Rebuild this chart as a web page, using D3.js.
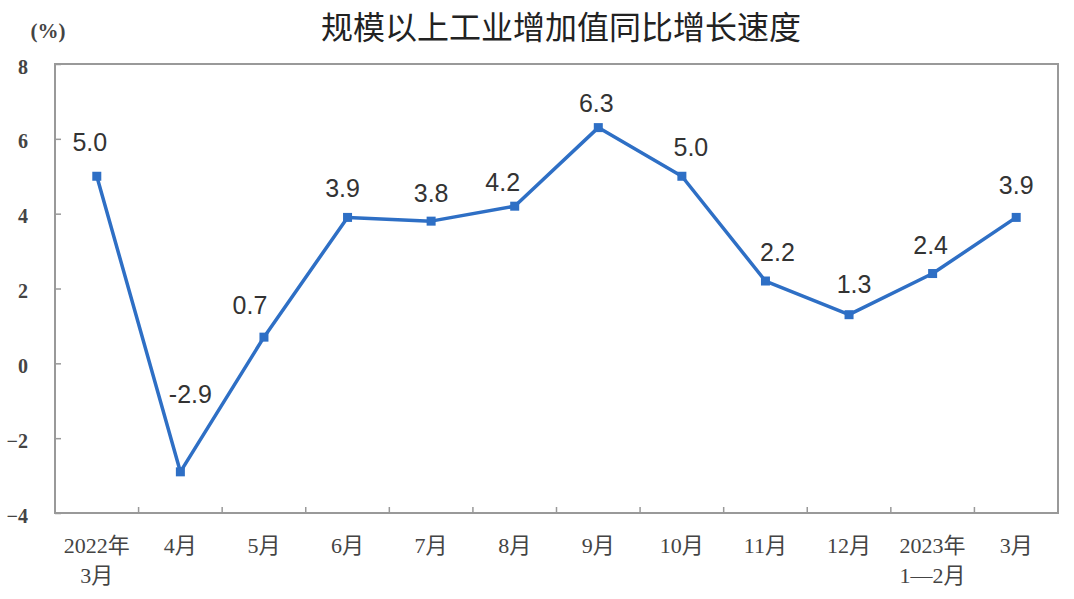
<!DOCTYPE html>
<html><head><meta charset="utf-8">
<script src="https://cdn.jsdelivr.net/npm/d3@7"></script>
<style>body{margin:0;background:#fff;}</style>
</head><body>
<script>
const categories = [["2022年","3月"],["4月"],["5月"],["6月"],["7月"],["8月"],["9月"],["10月"],["11月"],["12月"],["2023年","1—2月"],["3月"]];
const values = [5.0,-2.9,0.7,3.9,3.8,4.2,6.3,5.0,2.2,1.3,2.4,3.9];
const yTicks = [-4,-2,0,2,4,6,8];
const title = "规模以上工业增加值同比增长速度";
const unit = "(%)";

// layout: label nudges (px) relative to each point
const labelDx = [-7,10,-14,-5,0,-12,-2,9,12,5,-2,0];
const labelDy = [-25,-69,-23,-20,-19,-15,-16,-20,-20,-22,-20,-23];

const W=1074,H=599;
const m={l:55,r:1058,t:64,b:513};
const svg=d3.select("body").append("svg").attr("width",W).attr("height",H);
const x=d3.scaleBand().domain(d3.range(categories.length)).range([m.l,m.r]);
const y=d3.scaleLinear().domain([-4,8]).range([m.b,m.t]);
const serif="'Liberation Serif','Noto Sans CJK SC',serif";
const color="#2E6FC5";

svg.append("text").attr("x",561).attr("y",39).attr("text-anchor","middle")
  .attr("font-family","'Noto Sans CJK SC',sans-serif").attr("font-size",32).attr("fill","#222").text(title);
svg.append("text").attr("x",48).attr("y",38).attr("text-anchor","middle")
  .attr("font-family",serif).attr("font-size",21).attr("fill","#444").attr("font-weight","bold").text(unit);

// frame
svg.append("rect").attr("x",m.l).attr("y",m.t).attr("width",m.r-m.l).attr("height",m.b-m.t)
  .attr("fill","none").attr("stroke","#999").attr("stroke-width",2);

// y axis
const ya=svg.append("g").attr("transform",`translate(${m.l},0)`)
  .call(d3.axisLeft(y).tickValues(yTicks).tickSize(-6).tickPadding(27).tickFormat(d3.format("d")));
ya.select(".domain").remove();
ya.selectAll("line").attr("stroke","#999").attr("stroke-width",1.5);
ya.selectAll("text").attr("font-family",serif).attr("font-size",20).attr("fill","#444").attr("font-weight","bold").attr("dy","0.45em");

// x ticks at boundaries
const bounds=d3.range(1,categories.length).map(i=>x(i));
svg.append("g").selectAll("line").data(bounds).join("line")
  .attr("x1",d=>d).attr("x2",d=>d).attr("y1",m.b).attr("y2",m.b-6).attr("stroke","#999").attr("stroke-width",1.5);

// x labels
const xl=svg.append("g").selectAll("text").data(categories).join("text")
  .attr("text-anchor","middle").attr("font-family",serif).attr("font-size",22).attr("fill","#444")
  .attr("x",(d,i)=>x(i)+x.bandwidth()/2);
xl.selectAll("tspan").data(d=>d).join("tspan")
  .attr("x",function(){return this.parentNode.getAttribute("x");})
  .attr("y",(d,j)=>553+j*30).text(d=>d);

const cx=i=>x(i)+x.bandwidth()/2;
const line=d3.line().x((d,i)=>cx(i)).y(d=>y(d));
svg.append("path").datum(values).attr("d",line).attr("fill","none")
  .attr("stroke",color).attr("stroke-width",3.5).attr("stroke-linejoin","round");
svg.append("g").selectAll("rect").data(values).join("rect")
  .attr("x",(d,i)=>cx(i)-4.5).attr("y",d=>y(d)-4.5).attr("width",9).attr("height",9).attr("fill",color);
svg.append("g").selectAll("text").data(values).join("text")
  .attr("x",(d,i)=>cx(i)+labelDx[i]).attr("y",(d,i)=>y(d)+labelDy[i]).attr("text-anchor","middle")
  .attr("font-family","'Liberation Sans',Arial,sans-serif").attr("font-size",25).attr("fill","#333")
  .text(d=>d.toFixed(1));
</script>
</body></html>
